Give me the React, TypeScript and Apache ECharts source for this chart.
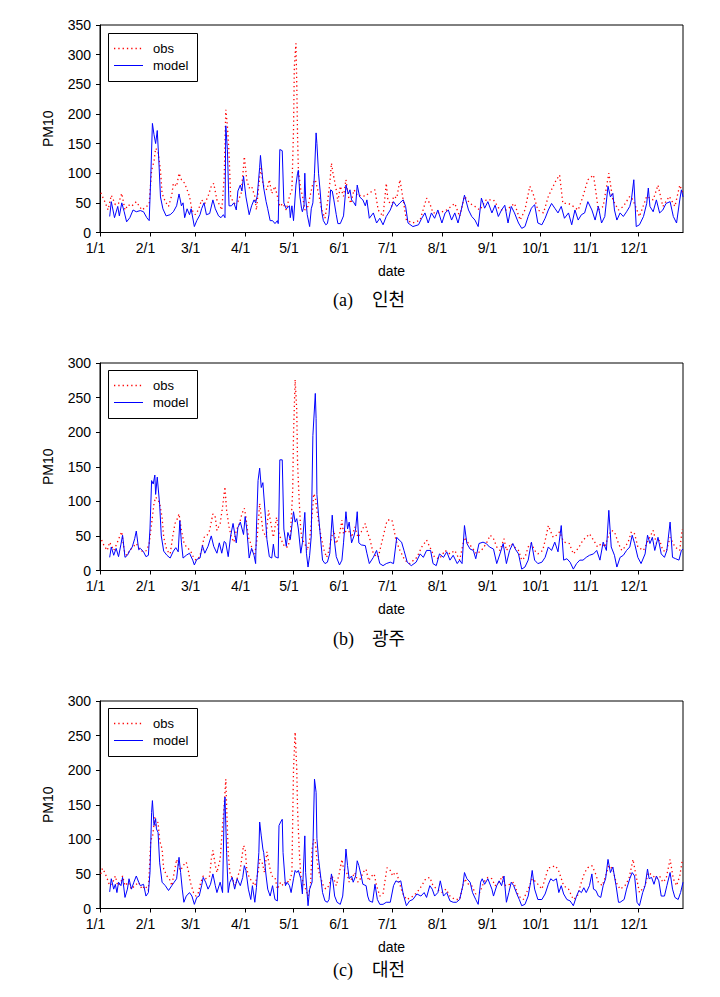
import React, { useEffect, useRef } from "react";
import * as echarts from "echarts";

// x values are day-of-year (0 = Jan 1)
const monthStartDays = [0, 31, 59, 90, 120, 151, 181, 212, 243, 273, 304, 334];
const monthLabels = ["1/1", "2/1", "3/1", "4/1", "5/1", "6/1", "7/1", "8/1", "9/1", "10/1", "11/1", "12/1"];
const seriesNames = ["obs", "model"];
const captionLetters = ["(a)", "(b)", "(c)"];
const captionCities = ["인천", "광주", "대전"];
const yMaxes = [350, 300, 300];

const incheonObs = [[0.5,67],[3,52],[5,38],[7,63],[9.5,47],[11.5,49],[13.5,66],[15.5,38],[17.5,47],[19.5,44],[22.5,52],[26,38],[29,44],[30.5,49],[32,105],[33.5,120],[34.5,142],[36,136],[37.5,105],[38.5,66],[40.5,52],[42.5,44],[44.5,63],[45.5,83],[47.5,78],[49,100],[50.5,89],[52.5,83],[54,72],[55.5,61],[57,38],[59,30],[61,38],[63,55],[65,49],[67,61],[69,78],[70.5,83],[72.5,55],[74,47],[75.5,38],[77,92],[78,207],[79,180],[80,134],[81,61],[82,55],[83.5,49],[85.5,52],[87.5,66],[89,111],[89.5,128],[91,89],[92.5,75],[94,78],[96,61],[97,38],[99,94],[100,111],[101,80],[103.5,72],[105,89],[106.5,66],[108.5,78],[110,61],[111.5,44],[113.5,49],[115.5,38],[117.5,61],[119,72],[120,173],[120.5,280],[121.5,319],[122,252],[122.5,162],[123,105],[124.5,72],[125.5,63],[127,38],[129,44],[130,58],[132,83],[133.5,89],[135.5,66],[137.5,38],[139.5,24],[141,49],[142.5,83],[143.5,117],[144.5,100],[146.5,72],[147.5,52],[149,78],[151,61],[152.5,89],[154,61],[155.5,49],[157.5,72],[160,61],[162,63],[164.5,61],[166.5,66],[170.5,72],[172.5,38],[175.5,27],[177.5,83],[178.5,55],[181,44],[182,61],[184,58],[186,89],[188,55],[190,21],[194,16],[198.5,21],[202.5,58],[204.5,49],[206.5,33],[210.5,33],[215,38],[220,49],[223,27],[226,61],[229.5,49],[232.5,44],[235.5,38],[239.5,55],[244,55],[248,38],[252,38],[257,49],[260.5,21],[263.5,38],[266.5,78],[268.5,66],[271.5,38],[275,33],[278,61],[281,78],[283,89],[285,97],[287,49],[290.5,49],[293.5,44],[296.5,38],[299.5,61],[302.5,89],[306,97],[309,38],[312,44],[315.5,100],[318,55],[321.5,38],[324.5,44],[328.5,61],[330.5,55],[334.5,27],[339,61],[343,55],[346,80],[349,44],[353,61],[356.5,44],[359.5,80],[361.5,66]];

const incheonModel = [[6,27],[7,52],[9,25],[11,44],[12,28],[13.5,50],[15,35],[16.5,18],[18.5,25],[20.5,38],[22.5,35],[25,37],[27,35],[29,25],[30.5,20],[31.5,95],[32.5,184],[33.5,165],[34.5,150],[35.5,172],[36.5,120],[37.5,60],[39,40],[41,28],[43.5,30],[45.5,35],[47.5,45],[49,65],[50.5,45],[51.5,50],[52.5,25],[54,40],[55.5,30],[56.5,40],[58.5,10],[60,20],[62,30],[63,40],[64.5,50],[66,30],[68,32],[70,55],[71.5,40],[73.5,28],[75,25],[76.5,30],[77.5,25],[78,180],[79,140],[80,45],[81.5,45],[83,50],[84.5,38],[85.5,70],[87,80],[88,70],[89,95],[90.5,60],[92.5,30],[94,45],[95.5,55],[96.5,50],[97.5,62],[99,110],[99.5,130],[100.5,100],[101.5,75],[103,52],[104,40],[105.5,20],[107,20],[108.5,15],[110,20],[110.5,15],[111.5,140],[113,138],[114,50],[115.5,40],[117.5,45],[118,25],[119,45],[120,20],[121.5,80],[122.5,100],[123,105],[124,60],[125,40],[125.5,35],[126.5,45],[127,100],[127.5,60],[128.5,30],[130,10],[131,40],[132,50],[133,100],[134,168],[134.5,150],[135.5,100],[136.5,70],[137.5,35],[138.5,20],[140,13],[141,15],[142,30],[143,72],[144,70],[145,55],[146.5,30],[147.5,15],[149,15],[151,28],[152,60],[152.5,80],[154,65],[155,72],[156,55],[157.5,50],[158.5,45],[159.5,80],[161,60],[163,55],[164.5,45],[165.5,55],[167,24],[169.5,33],[171.5,16],[173.5,24],[175.5,13],[177.5,27],[180,38],[182,52],[184,44],[186,50],[188,55],[189.5,44],[191,16],[194,10],[197.5,13],[199.5,24],[201.5,33],[203.5,16],[205.5,33],[207.5,24],[209.5,38],[212,16],[214,33],[216,38],[218,21],[220,33],[222,16],[224,38],[226,63],[228.5,38],[230.5,27],[232.5,21],[234.5,10],[236.5,58],[238.5,41],[240.5,52],[243,33],[245,46],[247,27],[249,38],[251,46],[253,16],[255,44],[257,33],[259.5,16],[261.5,7],[263.5,10],[265.5,27],[267.5,41],[269.5,47],[271.5,16],[274,13],[276,24],[278,38],[280,49],[282,41],[284,33],[286,44],[288,24],[290.5,33],[292.5,13],[294.5,38],[296.5,21],[298.5,30],[300.5,33],[302.5,52],[305,38],[307,21],[309,44],[311,16],[313,27],[315,78],[316.5,60],[318,66],[319,38],[320.5,21],[322.5,33],[324.5,27],[326.5,35],[328.5,44],[329.5,55],[331,89],[332.5,10],[334.5,13],[337,27],[339,49],[340,75],[341,44],[343,35],[345,55],[347,33],[349,38],[351,49],[353.5,52],[355.5,27],[357.5,16],[359.5,55],[360.5,72],[361.5,60]];

const gwangjuObs = [[1,44],[2.5,36],[4.5,29],[6,41],[8.5,29],[10.5,39],[12,48],[13.5,56],[15,29],[16.5,22],[18.5,29],[20.5,34],[22.5,39],[25,29],[27,27],[29,29],[30.5,39],[32,68],[33.5,97],[34.5,106],[36,102],[37,97],[38.5,77],[39.5,48],[41.5,29],[43.5,24],[45,48],[46.5,68],[48,75],[49,82],[50.5,58],[52,41],[53.5,34],[56,29],[58,19],[59.5,15],[61.5,19],[63,29],[64.5,48],[66,49],[68,58],[70,82],[71.5,77],[72.5,58],[74.5,68],[76,92],[77.5,121],[78.5,87],[80,63],[81.5,48],[83,41],[84.5,58],[86.5,68],[88,82],[89.5,90],[90.5,77],[92,48],[93.5,39],[94.5,29],[96,24],[97.5,48],[99,97],[100,77],[101,58],[103,48],[104.5,87],[106,68],[107.5,48],[109.5,77],[111,53],[112.5,44],[114.5,34],[116.5,34],[118,48],[119.5,116],[120,198],[121,276],[122,232],[122.5,155],[123.5,102],[124.5,58],[125.5,44],[127,39],[128.5,29],[130,44],[132,92],[132.5,111],[133.5,106],[134.5,87],[136,63],[137.5,44],[139,29],[140.5,19],[142,29],[143.5,48],[145,58],[146.5,39],[148.5,51],[150,73],[151,53],[153,58],[154.5,56],[156,48],[158,63],[160,48],[162,56],[164.5,68],[165.5,58],[167.5,44],[169.5,24],[172.5,19],[175.5,48],[177.5,68],[178.5,73],[181,73],[182,63],[183.5,44],[186,29],[189,15],[192,10],[196.5,19],[199.5,34],[202.5,44],[204.5,34],[207.5,19],[210.5,17],[214,29],[217,24],[220,29],[223,15],[226,48],[228.5,39],[230.5,34],[233.5,24],[236.5,29],[239.5,39],[242,51],[244,46],[246,34],[248,29],[250.5,46],[252,29],[255,39],[257,34],[259.5,29],[261.5,15],[263.5,19],[265.5,34],[267.5,39],[269.5,29],[271.5,24],[274.5,29],[276.5,48],[278,65],[279.5,56],[281,48],[283,51],[285,56],[287,44],[288,41],[291,39],[293.5,24],[295.5,29],[297.5,36],[299.5,44],[301.5,48],[303.5,53],[306,44],[308.5,34],[311,39],[313,34],[315,48],[317,58],[319,56],[321.5,39],[323.5,29],[325.5,34],[327.5,41],[329.5,56],[331.5,53],[333.5,34],[337,29],[340,44],[343,58],[345,39],[347,44],[349,29],[351,27],[353.5,48],[356.5,34],[359.5,29],[361,60]];

const gwangjuModel = [[6,19],[7,34],[8.5,22],[10,32],[11.5,20],[13,38],[14,51],[15.5,19],[17,22],[18.5,29],[20,34],[21.5,46],[22.5,57],[24,30],[25,32],[27,27],[28.5,20],[30,22],[31,60],[32,130],[33,125],[34,138],[34.5,110],[35.5,135],[37,95],[38,50],[39.5,28],[41.5,22],[43.5,18],[45.5,28],[47,33],[48.5,27],[49.5,72],[50.5,40],[51.5,18],[53.5,22],[55.5,25],[57.5,15],[58.5,8],[60,16],[62,18],[63.5,36],[65,25],[67,35],[69,50],[70.5,35],[72.5,25],[74,40],[75.5,25],[77,42],[78,40],[79.5,20],[81,50],[82.5,68],[84.5,40],[85.5,62],[87,70],[89,52],[90,78],[91,60],[92.5,18],[94,32],[95.5,22],[96.5,10],[97,60],[98,130],[99,148],[100,120],[101,127],[102.5,80],[103.5,45],[105,20],[106.5,18],[107.5,38],[108.5,20],[110.5,18],[111.5,160],[113,160],[114,60],[115.5,35],[116.5,55],[118,45],[120,85],[121,70],[122,75],[123,60],[124.5,25],[125.5,40],[127,84],[128,25],[129,5],[130,22],[131,50],[132,195],[133.5,256],[134,220],[134.5,110],[135.5,80],[137,40],[138,15],[139.5,10],[141,12],[142.5,25],[144,80],[145,50],[146.5,20],[148.5,8],[150,15],[151,40],[152.5,85],[153.5,60],[154.5,70],[156,40],[157.5,50],[158.5,60],[159.5,85],[160.5,40],[162,37],[164.5,36],[165.5,25],[167,10],[169.5,19],[171.5,29],[173.5,10],[175.5,7],[177.5,10],[180,12],[182,10],[184,48],[185.5,44],[187,41],[188.5,29],[190.5,12],[193,7],[196,12],[198.5,24],[200.5,19],[202.5,29],[205,29],[206.5,10],[208.5,7],[210.5,24],[213,19],[215,27],[217,15],[219,22],[221.5,10],[223,15],[224.5,10],[226,65],[227.5,39],[229.5,31],[231.5,29],[233,17],[235,39],[237.5,41],[239.5,39],[241.5,34],[244,31],[246,10],[248,24],[250,39],[252,10],[254,29],[256,39],[257.5,31],[259.5,24],[261.5,2],[263.5,5],[265.5,15],[267.5,41],[269.5,15],[271.5,10],[274,12],[276,19],[278,34],[280,29],[282,41],[284,27],[286,65],[287.5,15],[289.5,17],[291.5,12],[293.5,2],[295.5,10],[297.5,15],[299.5,15],[301.5,19],[303.5,22],[306,24],[308,29],[310,15],[312,41],[314,29],[315.5,87],[317,34],[319,22],[320.5,5],[322.5,19],[324.5,22],[326.5,29],[328.5,34],[330,51],[331.5,39],[333.5,19],[335.5,10],[338,24],[339.5,51],[341,39],[342.5,48],[344,29],[346,48],[348,24],[350,19],[351.5,29],[353.5,70],[355,19],[357,17],[359,15],[360.5,29],[361.5,31]];

const daejeonObs = [[0.5,50],[1.5,58],[3,52],[4.5,43],[6,33],[8,38],[9.5,47],[11,33],[13,38],[14,47],[15.5,33],[17.5,38],[19.5,28],[21.5,33],[24,38],[26,28],[28,33],[30,26],[31.5,100],[32.5,102],[34,132],[34.5,120],[36,125],[37,98],[38.5,86],[39.5,57],[41.5,47],[43,43],[44.5,33],[46,52],[47.5,71],[49,59],[50,55],[51.5,62],[53.5,67],[55,52],[56,38],[58,23],[59.5,18],[61,23],[62.5,38],[64,47],[65.5,43],[68,47],[69,71],[70,84],[71.5,62],[72.5,52],[74.5,71],[76,120],[77,149],[78,187],[78.5,149],[79.5,81],[80.5,52],[82,43],[84,33],[85.5,47],[87,57],[89,91],[90,86],[91,57],[92.5,45],[94.5,38],[96,33],[98,52],[99,71],[100.5,67],[102,52],[103.5,82],[105,62],[106.5,47],[108.5,45],[110,28],[112,38],[113.5,33],[115.5,40],[117.5,38],[119,52],[119.5,130],[120,202],[121,255],[122,202],[122.5,144],[123.5,86],[124.5,47],[126,38],[127.5,28],[129,18],[130.5,33],[131.5,86],[132.5,100],[133.5,96],[134.5,71],[135.5,55],[137,43],[138.5,33],[140,28],[142,33],[143.5,47],[145,43],[146.5,33],[148.5,52],[150,71],[151,57],[153,52],[154.5,38],[156,43],[158,52],[160,38],[162,45],[163,52],[165,57],[166.5,40],[168.5,47],[170,50],[171.5,33],[173.5,18],[175.5,21],[177.5,52],[178,59],[180,55],[181.5,47],[183,52],[184,52],[185.5,38],[187.5,23],[190,13],[193,16],[196.5,23],[199.5,33],[202,43],[204.5,45],[206.5,33],[209,28],[212,23],[214.5,28],[217,18],[220,13],[223,13],[226,43],[228.5,35],[230.5,33],[233,21],[235.5,23],[238,38],[240.5,45],[243,43],[245,33],[247.5,38],[249.5,47],[251.5,33],[254,35],[256.5,38],[259.5,18],[262.5,13],[265.5,28],[268,43],[270.5,38],[274,28],[276.5,47],[278,59],[280,59],[282,62],[284,57],[285.5,47],[287.5,33],[290.5,28],[293.5,13],[296,18],[298.5,38],[300.5,52],[302.5,59],[305,62],[307,52],[309,38],[311.5,33],[313.5,47],[315.5,62],[318,57],[320,38],[322.5,28],[325.5,33],[328,43],[330.5,71],[332,52],[334.5,23],[338,33],[340,52],[343,47],[345,43],[347,47],[349,38],[351,43],[353.5,71],[355.5,43],[357.5,33],[359.5,47],[361,69]];

const daejeonModel = [[6,24],[7,43],[8.5,28],[9.5,35],[10.5,23],[11.5,38],[13,33],[14,45],[15.5,16],[17,28],[18,43],[19.5,28],[21,38],[22.5,47],[24,38],[25,33],[27,35],[28.5,18],[30,23],[31,52],[32,139],[32.5,156],[33.5,120],[34.5,130],[35,115],[36,110],[37,66],[38.5,38],[40.5,33],[42.5,26],[44.5,33],[46,38],[47.5,43],[49,74],[50,52],[51,28],[52,9],[53.5,18],[55.5,23],[57,18],[58.5,6],[60,16],[61.5,18],[63,33],[64,45],[65.5,38],[67,28],[68.5,35],[70,50],[71.5,33],[72.5,23],[74.5,38],[76,23],[77,144],[77.5,161],[78.5,81],[79.5,23],[80.5,38],[82,45],[83.5,28],[85,43],[87,33],[88.5,45],[89.5,62],[90.5,55],[92,28],[93.5,13],[94.5,33],[96,9],[97,30],[98.5,81],[99,125],[100,105],[101,86],[101.5,81],[103,47],[104,28],[105.5,18],[107,33],[108.5,13],[110,11],[111,120],[112,125],[113,129],[113.5,81],[115,33],[116,38],[117.5,33],[118.5,23],[120,43],[121,55],[122,52],[123,55],[124.5,43],[125.5,21],[127,105],[127.5,52],[129,4],[130,28],[131.5,38],[132,86],[133,187],[134,168],[134.5,101],[135.5,72],[137,43],[138,23],[139.5,11],[141,9],[142,13],[143.5,50],[144.5,38],[145.5,18],[147,9],[149,6],[150.5,18],[151.5,47],[152.5,86],[153.5,62],[154.5,43],[156,47],[157,38],[158.5,47],[159.5,69],[160.5,62],[162,47],[163,35],[165,33],[166,18],[167,11],[169,9],[170.5,35],[172,13],[173.5,6],[175.5,6],[177.5,9],[180,9],[182,33],[183.5,40],[185,38],[186.5,40],[188,21],[190,4],[192,11],[194,13],[196.5,21],[199,18],[201,23],[202.5,16],[204.5,33],[206,28],[207.5,18],[209.5,23],[211,40],[213,18],[215,23],[217,11],[219,9],[221,9],[223,13],[225,33],[226,52],[227.5,43],[229.5,38],[231,23],[233,13],[234.5,6],[236,38],[237,43],[238.5,35],[240.5,43],[243,28],[244,18],[246,33],[247.5,40],[249,33],[250.5,47],[252,9],[253.5,23],[255,38],[256.5,33],[258.5,21],[260,13],[261.5,4],[263.5,6],[265.5,18],[267,38],[268,55],[269.5,28],[271.5,13],[274,13],[276,21],[278,35],[279.5,43],[281,40],[283,43],[284.5,23],[286,33],[287.5,21],[289.5,13],[291.5,11],[293.5,4],[295.5,18],[297,26],[298.5,23],[300,30],[301.5,23],[303.5,33],[305,50],[306,28],[307.5,26],[309,18],[310.5,16],[312,33],[313.5,43],[315,71],[316.5,52],[318,60],[320,33],[321.5,9],[322.5,9],[325,13],[326.5,28],[328.5,43],[330,52],[331.5,47],[333,9],[334.5,4],[336.5,23],[338,33],[339.5,57],[340.5,43],[342,45],[343.5,35],[345,47],[346.5,40],[348,18],[350,18],[351.5,33],[353.5,52],[355,28],[356.5,16],[358.5,13],[360,23],[361.5,38]];

const obsData = [incheonObs, gwangjuObs, daejeonObs];
const modelData = [incheonModel, gwangjuModel, daejeonModel];

const FONT = "'Liberation Sans', Arial, sans-serif";
const SERIF = "'Liberation Serif', 'Noto Sans CJK KR', serif";
const gridTops = [25, 363, 701];
const gridHeight = 207.5;
const gridLeft = 100;
const gridWidth = 583;
const legendTops = [33, 370, 708];
const captionYs = [300, 639, 970];
const OBS_COLOR = "#ff0000";
const MODEL_COLOR = "#0000ff";
const OBS_DASH = [1.3, 3];

function legendGraphic(top: number) {
  return {
    type: "group",
    children: [
      {
        type: "rect",
        shape: { x: 108.5, y: top + 0.5, width: 89, height: 48 },
        style: { fill: "#fff", stroke: "#000", lineWidth: 1 },
      },
      {
        type: "line",
        shape: { x1: 114, y1: top + 15.5, x2: 143, y2: top + 15.5 },
        style: { stroke: OBS_COLOR, lineWidth: 1.3, lineDash: OBS_DASH },
      },
      {
        type: "line",
        shape: { x1: 114, y1: top + 32.5, x2: 143, y2: top + 32.5 },
        style: { stroke: MODEL_COLOR, lineWidth: 1 },
      },
      {
        type: "text",
        x: 153,
        y: top + 15.5,
        style: { text: seriesNames[0], fontFamily: FONT, fontSize: 13, fill: "#000", verticalAlign: "middle" },
      },
      {
        type: "text",
        x: 153,
        y: top + 32.5,
        style: { text: seriesNames[1], fontFamily: FONT, fontSize: 13, fill: "#000", verticalAlign: "middle" },
      },
    ],
  };
}

export default function App() {
  const ref = useRef<HTMLDivElement>(null);
  useEffect(() => {
    if (!ref.current) return;
    const chart = echarts.init(ref.current, null, { renderer: "svg" });
    const idx = [0, 1, 2];
    const option: any = {
      animation: false,
      backgroundColor: "#fff",
      grid: idx.map((i) => ({
        left: gridLeft,
        top: gridTops[i],
        width: gridWidth,
        height: gridHeight,
        show: true,
        borderColor: "#000",
        borderWidth: 1,
        backgroundColor: "transparent",
      })),
      xAxis: idx.map((i) => ({
        type: "value",
        gridIndex: i,
        min: 0,
        max: 361.5,
        name: "date",
        nameLocation: "middle",
        nameGap: 31,
        nameTextStyle: { fontFamily: FONT, fontSize: 14, color: "#000" },
        axisLine: { show: true, onZero: false, lineStyle: { color: "#000", width: 1 } },
        axisTick: { show: true, length: 4, customValues: monthStartDays, lineStyle: { color: "#000" } },
        axisLabel: {
          customValues: monthStartDays,
          formatter: (v: number) => monthLabels[monthStartDays.indexOf(Math.round(v))] ?? "",
          fontFamily: FONT,
          fontSize: 14,
          color: "#000",
          margin: 8,
          padding: [0, 9, 0, 0],
        },
        splitLine: { show: false },
      })),
      yAxis: idx.map((i) => ({
        type: "value",
        gridIndex: i,
        min: 0,
        max: yMaxes[i],
        interval: 50,
        name: "PM10",
        nameLocation: "middle",
        nameGap: 45,
        nameRotate: 90,
        nameTextStyle: { fontFamily: FONT, fontSize: 14, color: "#000" },
        axisLine: { show: true, lineStyle: { color: "#000", width: 1 } },
        axisTick: { show: true, length: 4, lineStyle: { color: "#000" } },
        axisLabel: { fontFamily: FONT, fontSize: 14, color: "#000", margin: 9 },
        splitLine: { show: false },
      })),
      series: idx.flatMap((i) => [
        {
          name: seriesNames[0],
          type: "line",
          xAxisIndex: i,
          yAxisIndex: i,
          data: obsData[i],
          symbol: "none",
          lineStyle: { color: OBS_COLOR, width: 1.3, type: OBS_DASH },
          itemStyle: { color: OBS_COLOR },
          z: 2,
        },
        {
          name: seriesNames[1],
          type: "line",
          xAxisIndex: i,
          yAxisIndex: i,
          data: modelData[i],
          symbol: "none",
          lineStyle: { color: MODEL_COLOR, width: 1 },
          itemStyle: { color: MODEL_COLOR },
          z: 3,
        },
      ]),
      graphic: idx.flatMap((i) => [
        legendGraphic(legendTops[i]),
        {
          type: "text",
          x: 333,
          y: captionYs[i],
          style: { text: captionLetters[i], fontFamily: SERIF, fontSize: 18, fill: "#000", verticalAlign: "middle" },
        },
        {
          type: "text",
          x: 372,
          y: captionYs[i],
          style: { text: captionCities[i], fontFamily: SERIF, fontSize: 18, fill: "#000", verticalAlign: "middle" },
        },
      ]),
    };
    chart.setOption(option);
    return () => chart.dispose();
  }, []);
  return (
    <div
      ref={ref}
      style={{ position: "fixed", left: 0, top: 0, width: 720, height: 997, background: "#fff" }}
    />
  );
}
